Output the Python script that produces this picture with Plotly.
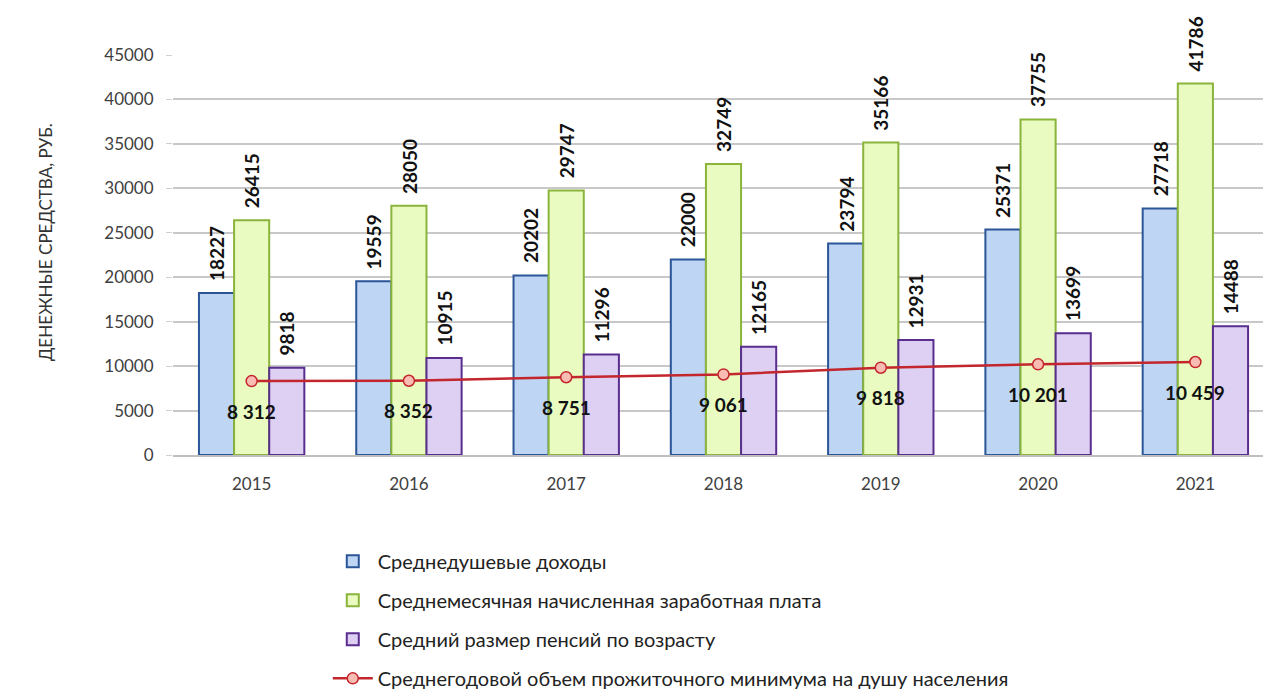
import plotly.graph_objects as go

years = ["2015", "2016", "2017", "2018", "2019", "2020", "2021"]
income_per_capita = [18227, 19559, 20202, 22000, 23794, 25371, 27718]
avg_monthly_wage = [26415, 28050, 29747, 32749, 35166, 37755, 41786]
avg_old_age_pension = [9818, 10915, 11296, 12165, 12931, 13699, 14488]
subsistence_minimum = [8312, 8352, 8751, 9061, 9818, 10201, 10459]

names = [
    "Среднедушевые доходы",
    "Среднемесячная начисленная заработная плата",
    "Средний размер пенсий по возрасту",
    "Среднегодовой объем прожиточного минимума на душу населения",
]
y_title = "ДЕНЕЖНЫЕ СРЕДСТВА, РУБ."

FONT = "Lato, 'Open Sans', sans-serif"
BARGAP = 0.33

bar_series = [
    (income_per_capita, names[0], "#bed5f4", "#2a5597"),
    (avg_monthly_wage, names[1], "#e9fbc0", "#8ab43c"),
    (avg_old_age_pension, names[2], "#ddd0f3", "#5a2e8e"),
]

fig = go.Figure()
n_bars = len(bar_series)
bar_w = (1 - BARGAP) / n_bars
for i, (vals, name, fill, edge) in enumerate(bar_series):
    fig.add_trace(go.Bar(
        x=years, y=vals, name=name, legendgroup=f"g{i}",
        marker=dict(color=fill, line=dict(color=edge, width=2)),
    ))
    # rotated value labels above each bar
    offset = (i - (n_bars - 1) / 2) * bar_w
    for k, v in enumerate(vals):
        fig.add_annotation(
            x=k + offset, y=v, text=str(v), textangle=-90,
            showarrow=False, xanchor="center", yanchor="bottom", yshift=10,
            font=dict(family=FONT, size=19, color="#111111", weight="bold"),
        )

fig.add_trace(go.Scatter(
    x=years, y=subsistence_minimum, name=names[3], legendgroup="g3",
    mode="lines+markers",
    line=dict(color="#c3262c", width=2.5),
    marker=dict(symbol="circle", size=11, color="#f8bcb3",
                line=dict(color="#c3262c", width=1.5)),
    cliponaxis=False,
))

def fmt_space(v):
    return f"{v:,}".replace(",", " ")

for k, v in enumerate(subsistence_minimum):
    fig.add_annotation(
        x=k, y=v, text=fmt_space(v), showarrow=False, yshift=-30,
        font=dict(family=FONT, size=19, color="#111111", weight="bold"),
    )

# vertical axis caption
fig.add_annotation(
    xref="paper", yref="paper", x=-0.1174, y=0.5325, text=y_title,
    textangle=-90, showarrow=False, xanchor="center", yanchor="middle",
    font=dict(family=FONT, size=17, color="#333333"),
)

fig.update_layout(
    width=1263, height=693,
    paper_bgcolor="white", plot_bgcolor="white",
    margin=dict(l=173, r=0, t=55, b=238, autoexpand=False),
    barmode="group", bargap=BARGAP, bargroupgap=0,
    font=dict(family=FONT, size=17, color="#404040"),
    showlegend=True,
    legend=dict(
        x=0.142, y=-0.217, xanchor="left", yanchor="top",
        orientation="v", tracegroupgap=10,
        font=dict(family=FONT, size=20, color="#222222"),
        itemwidth=40,
    ),
    xaxis=dict(
        type="category", range=[-0.5, 6.43], showgrid=False, showline=True,
        linecolor="#bfbfbf", linewidth=1.5, ticks="", ticklabelstandoff=13,
        tickfont=dict(family=FONT, size=17, color="#404040"),
    ),
    yaxis=dict(
        range=[0, 45000], dtick=5000, tickformat="d", showgrid=True,
        gridcolor="#c8c8c8", gridwidth=1.5, zeroline=False,
        ticks="outside", ticklen=6, tickcolor="#d0d0d0", ticklabelstandoff=9,
        tickfont=dict(family=FONT, size=17, color="#404040"),
    ),
)

fig.write_html("out.html")
